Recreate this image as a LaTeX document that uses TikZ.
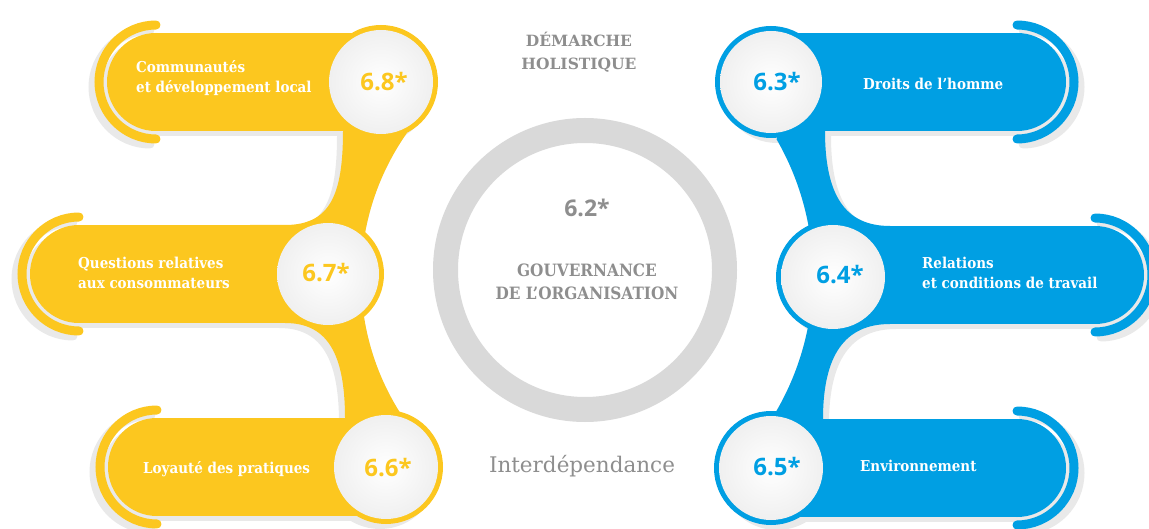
\documentclass[tikz,border=0pt]{standalone}
\usepackage{fontspec}
\setmainfont{DejaVu Serif}
\newfontfamily\labfont[FakeStretch=0.9]{DejaVu Serif}
\newfontfamily\numfont{Open Sans}
\usetikzlibrary{calc}
\definecolor{ylw}{HTML}{FCC71F}
\definecolor{blu}{HTML}{009FE3}
\definecolor{shd}{HTML}{E9E9E9}
\definecolor{ringc}{HTML}{D9D9D9}
\definecolor{txtg}{HTML}{8E8E8E}
\newcommand\yellowbody[1]{%
  \fill[#1] (156,82) circle[radius=49];
  \fill[#1] (156,33) rectangle (381,131);
  \fill[#1] (79,274) circle[radius=49];
  \fill[#1] (79,225) rectangle (328,323);
  \fill[#1] (157,467) circle[radius=49];
  \fill[#1] (157,418) rectangle (386,516);
  \fill[#1] (340,100) -- (395,100) -- ($(yc)+(215:252)$)
     arc[start angle=215, end angle=147, radius=252]
     -- (395,440) -- (345,440) -- (345,418)
     .. controls (345,350) and (325,323) .. (285,323)
     -- (250,323) -- (250,225) -- (285,225)
     .. controls (330,225) and (343,195) .. (343,131) -- cycle;
  \fill[#1] (381,82) circle[radius=57];
  \fill[#1] (328,274) circle[radius=56];
  \fill[#1] (386,467) circle[radius=57];
  \draw[#1, arcline] (156,25) arc[start angle=270, end angle=90, radius=57];
  \draw[#1, arcline] (79,217) arc[start angle=270, end angle=90, radius=57];
  \draw[#1, arcline] (157,410) arc[start angle=270, end angle=90, radius=57];
}
\newcommand\bluebody[1]{%
  \fill[#1] (1017,82) circle[radius=49];
  \fill[#1] (771,33) rectangle (1017,131);
  \fill[#1] (1095,275) circle[radius=49];
  \fill[#1] (833,226) rectangle (1095,324);
  \fill[#1] (1017,468) circle[radius=49];
  \fill[#1] (771,419) rectangle (1017,517);
  \fill[#1] (780,100) -- (825,100) -- (825,131)
     .. controls (825,195) and (845,226) .. (890,226)
     -- (890,324) .. controls (845,324) and (823,355) .. (823,419)
     -- (823,440) -- (772,440) -- ($(bc)+(31:271)$)
     arc[start angle=31, end angle=-30, radius=271] -- cycle;
  \fill[#1] (771,82) circle[radius=56];
  \fill[#1] (833,277) circle[radius=57];
  \fill[#1] (771,468) circle[radius=57];
  \draw[#1, arcline] (1017,25) arc[start angle=270, end angle=450, radius=57];
  \draw[#1, arcline] (1095,218) arc[start angle=270, end angle=450, radius=57];
  \draw[#1, arcline] (1017,411) arc[start angle=270, end angle=450, radius=57];
}
\begin{document}
\begin{tikzpicture}[x=1pt, y=-1pt,
  arcline/.style={line width=9pt, line cap=round},
  lab/.style={text=white, font=\labfont\bfseries\fontsize{15}{20}\selectfont, align=left, anchor=west, inner sep=0pt},
  num/.style={font=\numfont\bfseries\fontsize{24}{26}\selectfont, inner sep=0pt},
  inner/.style={inner color=white, outer color=black!6},
  grey/.style={text=txtg, align=center, inner sep=0pt}]
\useasboundingbox (0,0) rectangle (1149,529);
\coordinate (rc) at (585,270);
\coordinate (yc) at (613,278);
\coordinate (bc) at (542,275);
% ring
\draw[ringc, line width=25pt] (rc) circle[radius=139.5];
% shadows
\begin{scope}[shift={(-6,5)}]\yellowbody{shd}\end{scope}
\begin{scope}[shift={(6,5)}]\bluebody{shd}\end{scope}
% bodies
\yellowbody{ylw}
\bluebody{blu}
% inner white discs
\foreach \cx/\cy/\r in {381/82/52, 328/274/51, 386/467/52, 771/82/51, 833/277/52, 771/468/52}
  {\shade[inner] (\cx,\cy) circle[radius=\r];}
% labels
\node[lab] (t68) at (136,78) {Communautés\\et développement local};
\node[lab] (t67) at (78,273) {Questions relatives\\aux consommateurs};
\node[lab] (t66) at (143,469) {Loyauté des pratiques};
\node[lab] (t63) at (863,84) {Droits de l’homme};
\node[lab] (t64) at (922,273) {Relations\\et conditions de travail};
\node[lab] (t65) at (860,466) {Environnement};
% numbers
\node[num, text=ylw] (n68) at (384,82) {6.8*};
\node[num, text=ylw] (n67) at (326,273) {6.7*};
\node[num, text=ylw] (n66) at (388,468) {6.6*};
\node[num, text=blu] (n63) at (777,82) {6.3*};
\node[num, text=blu] (n64) at (840,275) {6.4*};
\node[num, text=blu] (n65) at (777,467) {6.5*};
% centre texts
\node[grey, font=\bfseries\fontsize{15.5}{23}\selectfont] (dem) at (579,52) {DÉMARCHE\\HOLISTIQUE};
\node[grey, font=\numfont\bfseries\fontsize{23}{24}\selectfont] (n62) at (587,208) {6.2*};
\node[grey, font=\labfont\bfseries\fontsize{17}{23}\selectfont] (gov) at (587,282) {GOUVERNANCE\\DE L’ORGANISATION};
\node[grey, font=\fontsize{21.5}{24}\selectfont] (inter) at (582,466) {Interdépendance};
\end{tikzpicture}
\end{document}
